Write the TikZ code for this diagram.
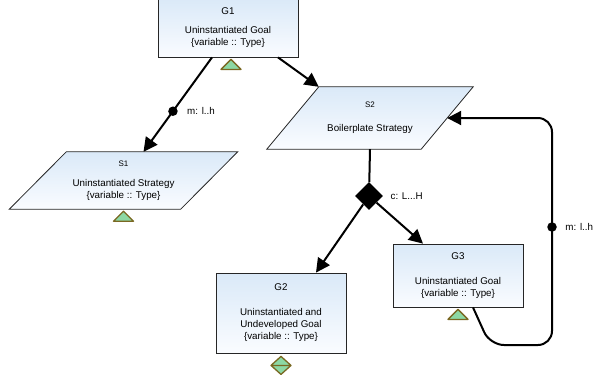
\documentclass[tikz,border=0pt]{standalone}
\usepackage{fontspec}
\setmainfont{Liberation Sans}
\usetikzlibrary{arrows.meta,positioning,shapes.geometric,backgrounds}
\definecolor{gsnTop}{RGB}{218,233,248}
\definecolor{gsnBot}{RGB}{250,252,255}
\definecolor{gsnGreen}{RGB}{140,216,164}
\definecolor{gsnOlive}{RGB}{122,104,34}
\newcommand\idfont{\fontsize{8}{9}\selectfont}

\begin{document}
\begin{tikzpicture}[x=1pt,y=-1pt,
  boxfill/.style={draw=black!85,line width=.8pt,top color=gsnTop,bottom color=gsnBot},
  goal/.style={boxfill,minimum width=130pt,align=center,inner sep=2pt,font=\fontsize{9.8}{12}\selectfont},
  strat/.style={minimum width=#1,align=center,inner sep=2pt,font=\fontsize{9.8}{12}\selectfont},
  link/.style={line width=2pt,-{Triangle[length=14pt,width=14pt]}},
  mult/.style={circle,fill=black,inner sep=0pt,minimum size=9.5pt},
  cardl/.style={font=\fontsize{9.8}{12}\selectfont},
  uninst/.style={draw=gsnOlive,fill=gsnGreen,line width=1.3pt,line join=round}]
  \useasboundingbox (0,0) rectangle (598,381);

  \node[goal,minimum width=140pt,minimum height=58pt] (G1) at (228,28)
    {G1\\[7pt]Uninstantiated Goal\\\{variable :: Type\}};
  \node[strat=171pt,minimum height=57pt] (S1) at (123.5,180.5)
    {{\idfont S1}\\[8pt]Uninstantiated Strategy\\\{variable :: Type\}};
  \node[strat=154pt,minimum height=62pt] (S2) at (370,118)
    {{\idfont S2}\\[12pt]Boilerplate Strategy};
  \node[diamond,fill=black,inner sep=0pt,minimum width=28pt,minimum height=28pt] (ch) at (369,196) {};
  \node[cardl,right=4pt of ch] (chl) {c: L...H};
  \node[goal,minimum height=80pt] (G2) at (281,313)
    {G2\\[13pt]Uninstantiated and\\Undeveloped Goal\\\{variable :: Type\}};
  \node[goal,minimum height=63pt] (G3) at (458,275.5)
    {G3\\[13pt]Uninstantiated Goal\\\{variable :: Type\}};
  \coordinate (loopB) at (490,345);
  \coordinate (loopR) at (552,345);

  % strategy parallelograms
  \begin{scope}[on background layer]
    \draw[boxfill] ([xshift=-28.5pt]S1.south west) -- ([xshift=-28.5pt]S1.south east)
      -- ([xshift=28.5pt]S1.north east) -- ([xshift=28.5pt]S1.north west) -- cycle;
    \draw[boxfill] ([xshift=-26pt]S2.south west) -- ([xshift=-26pt]S2.south east)
      -- ([xshift=26pt]S2.north east) -- ([xshift=26pt]S2.north west) -- cycle;
  \end{scope}

  % uninstantiated / undeveloped markers
  \draw[uninst] ([xshift=3pt,yshift=-2pt]G1.south) -- ++(10,10) -- ++(-20,0) -- cycle;
  \draw[uninst] ([yshift=-2pt]S1.south) -- ++(10,10) -- ++(-20,0) -- cycle;
  \draw[uninst] ([yshift=-2pt]G3.south) -- ++(10,10) -- ++(-20,0) -- cycle;
  \draw[uninst] ([yshift=-3pt]G2.south) -- ++(10,9) -- ++(-10,9) -- ++(-10,-9) -- cycle
    ++(-10,9) -- ++(20,0);

  \draw[link] ([xshift=-16pt]G1.south) -- node[mult,pos=.57] (m1) {} ([xshift=20pt]S1.north);
  \node[cardl,right=5pt of m1] (m1l) {m: l..h};
  \draw[link] ([xshift=50pt]G1.south) -- ([xshift=26pt]S2.north west);
  \draw[line width=2pt] (S2.south) -- (ch);
  \draw[link] (ch) -- ([xshift=35pt]G2.north);
  \draw[link] (ch) -- ([xshift=-35pt]G3.north);
  \draw[link,rounded corners=14pt] ([xshift=15pt]G3.south) -- (loopB) -- (loopR)
    -- (loopR |- S2.east) -- (S2.east);
  \node[mult] (m2) at (552,227) {};
  \node[cardl,right=5pt of m2] (m2l) {m: l..h};
\end{tikzpicture}
\end{document}
